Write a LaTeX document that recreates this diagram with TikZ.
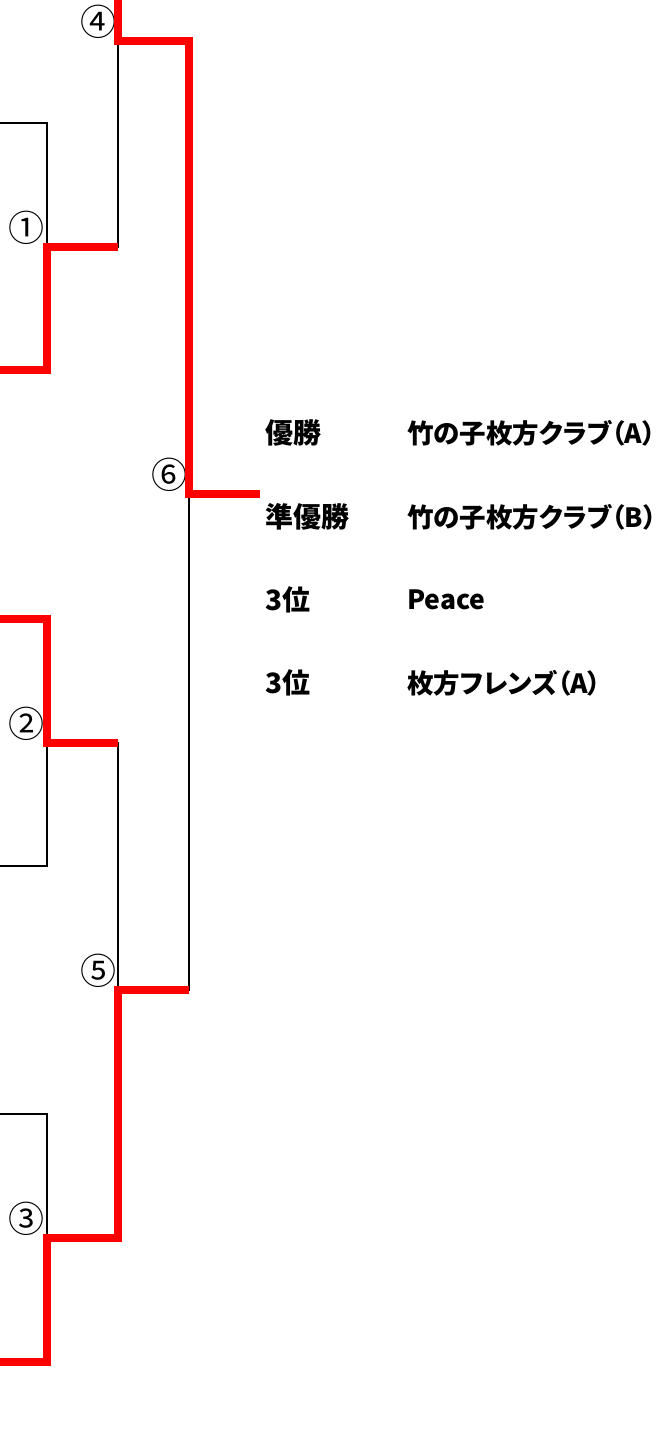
\documentclass[tikz,border=0pt]{standalone}
\usepackage{fontspec}
\newfontfamily\cjk{Noto Sans CJK JP}
\newfontfamily\cjkp[RawFeature=+palt]{Noto Sans CJK JP}
\usetikzlibrary{positioning}

\begin{document}
\begin{tikzpicture}[x=1pt,y=-1pt]
            \tikzset{lose/.style = {line width=2.6pt}}
            \tikzset{win/.style = {draw=red, line width=7.5pt}}
            \tikzset{match/.style = {font=\cjk\fontsize{36}{36}\selectfont, inner sep=0pt}}
            \tikzset{rank/.style = {font=\cjkp\bfseries\fontsize{28}{28}\selectfont, inner sep=0pt, anchor=west}}
            \tikzset{team/.style = {rank, font=\cjkp\bfseries\fontsize{26.5}{26.5}\selectfont}}
            \useasboundingbox (0,0) rectangle (669,1448);

            % entrants and matches
            \foreach \i/\y in {1/123,2/370,3/619,4/866,5/1114,6/1362}
            {
              \coordinate (e\i) at (-5,\y);
            }
            \coordinate (e7) at (118,-5);
            \coordinate (m1) at (47,247);
            \coordinate (m2) at (47,743);
            \coordinate (m3) at (47,1238);
            \coordinate (m4) at (118,41);
            \coordinate (m5) at (118,990);
            \coordinate (m6) at (189,494);
            \coordinate (w) at (260,494);

            % match numbers
            \foreach \i/\n in {1/①,2/②,3/③,4/④,5/⑤,6/⑥}
            {
              \node[match, above left=19pt and 20pt of m\i, anchor=center] (n\i) {\n};
            }

            % lines
            \draw[lose] (e1) -| (m1) -| (m4);
            \draw[lose] (e4) -| (m2) -| (m5);
            \draw[lose] (e5) -| (m3);
            \draw[lose] (m6) |- (m5);
            \draw[win] (e2) -| (m1) -- (m1 -| m4);
            \draw[win] (e7) -- (m4) -| (m6) -- (w);
            \draw[win] (e3) -| (m2) -- (m2 -| m5);
            \draw[win] (e6) -| (m3) -| (m5) -- (m5 -| m6);

            % results
            \foreach \i/\y/\r/\t in {1/433/優勝/竹の子枚方クラブ（A）,2/517/準優勝/竹の子枚方クラブ（B）,3/600/3位/Peace,4/683/3位/枚方フレンズ（A）}
            {
              \node[rank] (r\i) at (265,\y) {\r};
              \node[team] (t\i) at (407,\y) {\t};
            }

          \end{tikzpicture}
\end{document}
